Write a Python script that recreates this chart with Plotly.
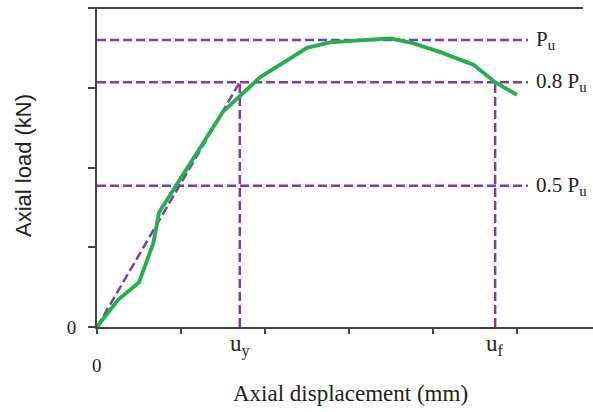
import plotly.graph_objects as go

# Load-displacement curve (x: displacement units, y: load units)
disp = [0, 0.25, 0.50, 0.67, 0.74, 1.50, 1.94, 2.50, 2.77, 3.49, 3.76, 4.08, 4.48, 4.74, 5.00]
load = [0, 0.34, 0.56, 1.05, 1.44, 2.70, 3.13, 3.50, 3.57, 3.62, 3.56, 3.45, 3.29, 3.07, 2.91]

# Reference levels
level_names = ["P<sub>u</sub>", "0.8 P<sub>u</sub>", "0.5 P<sub>u</sub>"]
level_values = [3.60, 3.07, 1.77]
u_y = 1.70
u_f = 4.74
ref_end = 5.13

x_tickvals = [0, 1, 2, 3, 4, 5]
y_tickvals = [0, 1, 2, 3, 4]
y_ticktext = ["0", "", "", "", ""]

purple = "#7A3DAE"
green = "#22B04A"
axis_col = "#444444"
dash = "9px,4px"

fig = go.Figure()

# horizontal reference lines
for v in level_values:
    fig.add_trace(go.Scatter(x=[0, ref_end], y=[v, v], mode="lines",
                             line=dict(color=purple, width=2.5, dash=dash),
                             hoverinfo="skip", showlegend=False))
# vertical reference lines
for u in [u_y, u_f]:
    fig.add_trace(go.Scatter(x=[u, u], y=[0, level_values[1]], mode="lines",
                             line=dict(color=purple, width=2.5, dash=dash),
                             hoverinfo="skip", showlegend=False))
# secant line
fig.add_trace(go.Scatter(x=[0, u_y], y=[0, level_values[1]], mode="lines",
                         line=dict(color=purple, width=2.5, dash=dash),
                         hoverinfo="skip", showlegend=False))
# curve
fig.add_trace(go.Scatter(x=disp, y=load, mode="lines",
                         line=dict(color=green, width=3.8),
                         showlegend=False))

serif = "Liberation Serif"
sans = "Liberation Sans"
txt = "#222222"

annotations = []
for name, v in zip(level_names, level_values):
    annotations.append(dict(x=5.20, y=v, xref="x", yref="y", text=name,
                            showarrow=False, xanchor="left", yanchor="middle",
                            font=dict(family=serif, size=21, color=txt)))
annotations.append(dict(x=u_y, y=0, xref="x", yref="y", text="u<sub>y</sub>",
                        showarrow=False, xanchor="center", yanchor="middle", yshift=-18,
                        font=dict(family=serif, size=23, color=txt)))
annotations.append(dict(x=u_f, y=0, xref="x", yref="y", text="u<sub>f</sub>",
                        showarrow=False, xanchor="center", yanchor="middle", yshift=-18,
                        font=dict(family=serif, size=23, color=txt)))
annotations.append(dict(x=0, y=0, xref="x", yref="y", text="0",
                        showarrow=False, xanchor="center", yanchor="middle", yshift=-38,
                        font=dict(family=serif, size=19, color=txt)))
annotations.append(dict(x=(350 - 97) / 496, y=(327 - 393) / 319, xref="paper", yref="paper",
                        text="Axial displacement (mm)", showarrow=False,
                        xanchor="center", yanchor="middle",
                        font=dict(family=serif, size=23, color=txt)))
annotations.append(dict(x=(23 - 97) / 496, y=(327 - 166) / 319, xref="paper", yref="paper",
                        text="Axial load (kN)", showarrow=False, textangle=-90,
                        xanchor="center", yanchor="middle",
                        font=dict(family=sans, size=22, color=txt)))

fig.update_layout(
    width=593, height=412,
    margin=dict(l=97, r=0, t=8, b=85),
    paper_bgcolor="white", plot_bgcolor="white",
    annotations=annotations,
    shapes=[dict(type="line", xref="paper", yref="paper",
                 x0=(90 - 97) / 496, x1=(583 - 97) / 496, y0=1, y1=1,
                 line=dict(color=axis_col, width=1.8))],
    xaxis=dict(range=[0, 496 / 84], tickvals=x_tickvals, showticklabels=False,
               ticks="outside", ticklen=5, tickwidth=1.5, tickcolor=axis_col,
               showline=True, linecolor=axis_col, linewidth=1.8,
               showgrid=False, zeroline=False),
    yaxis=dict(range=[0, 4], tickvals=y_tickvals, ticktext=y_ticktext,
               ticks="outside", ticklen=7, tickwidth=1.5, tickcolor=axis_col,
               showline=True, linecolor=axis_col, linewidth=1.8,
               ticklabelstandoff=8,
               tickfont=dict(family=serif, size=19, color=txt),
               showgrid=False, zeroline=False),
)

fig.write_html("out.html", config={"displayModeBar": False},
               post_script="document.body.style.margin='0';document.body.style.padding='0';")
